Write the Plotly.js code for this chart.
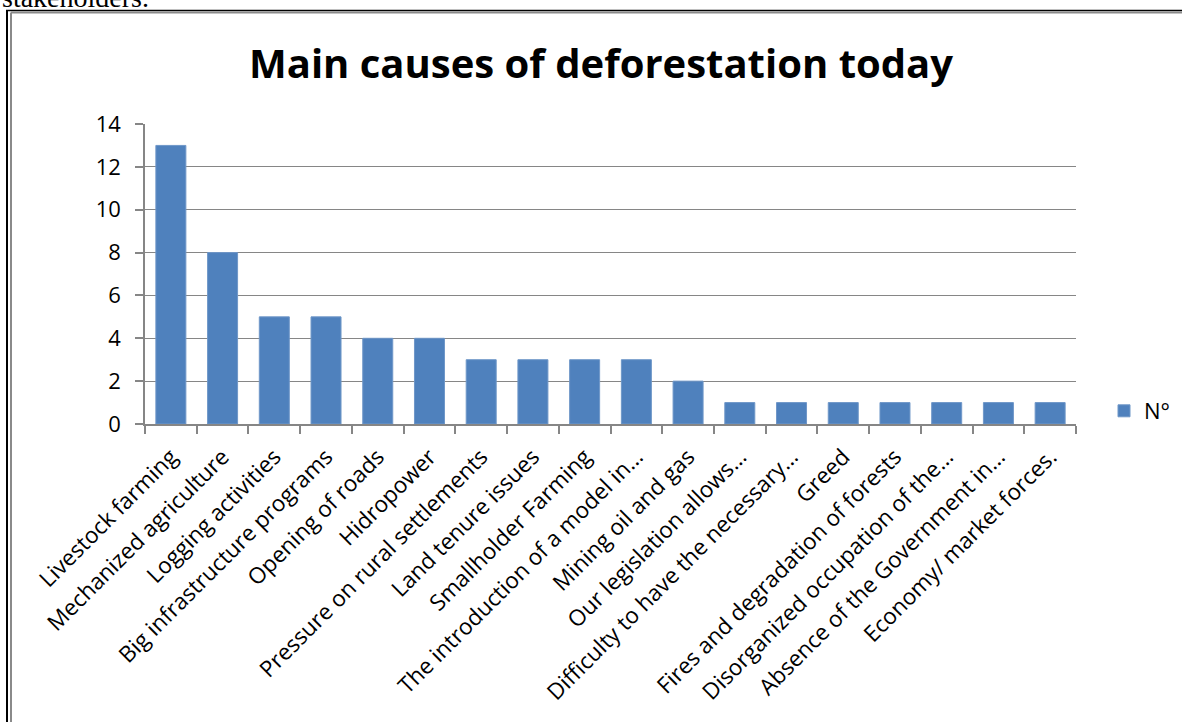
<!DOCTYPE html>
<html>
<head>
<meta charset="utf-8">
<script src="https://cdn.plot.ly/plotly-3.0.1.min.js"></script>
<style>
  html, body { margin: 0; padding: 0; background: #fff; }
  #chart { width: 1182px; height: 722px; }
</style>
</head>
<body>
<div id="chart"></div>
<script>
// Causes of deforestation and how many respondents named each one
const causes = [
  'Livestock farming',
  'Mechanized agriculture',
  'Logging activities',
  'Big infrastructure programs',
  'Opening of roads',
  'Hidropower',
  'Pressure on rural settlements',
  'Land tenure issues',
  'Smallholder Farming',
  'The introduction of a model in…',
  'Mining oil and gas',
  'Our legislation allows…',
  'Difficulty to have the necessary…',
  'Greed',
  'Fires and degradation of forests',
  'Disorganized occupation of the…',
  'Absence of the Government in…',
  'Economy/ market forces.'
];
const counts = [13, 8, 5, 5, 4, 4, 3, 3, 3, 3, 2, 1, 1, 1, 1, 1, 1, 1];
const seriesName = 'N°';
const chartTitle = 'Main causes of deforestation today';
const leadText = 'stakeholders.';

const W = 1182, H = 722;
const px = v => v / W;          // pixel -> paper x
const py = v => 1 - v / H;      // pixel -> paper y

const font = '"Open Sans", "Noto Sans", sans-serif';
const grid = '#868686';

const trace = {
  type: 'bar',
  x: causes,
  y: counts,
  name: seriesName,
  showlegend: true,
  marker: { color: '#4F81BD', line: { color: '#6F97C8', width: 1 } },
  hoverinfo: 'x+y'
};

// double frame around the chart box
const frame = [
  { x0: 7, y0: 10.5, x1: 7, y1: H, color: '#000', w: 2 },
  { x0: 6, y0: 10.5, x1: W, y1: 10.5, color: '#000', w: 1.5 },
  { x0: 11, y0: 12.5, x1: 11, y1: H, color: '#8a8a8a', w: 2 },
  { x0: 11, y0: 12.5, x1: W, y1: 12.5, color: '#8a8a8a', w: 2 }
].map(f => ({
  type: 'line', xref: 'paper', yref: 'paper',
  x0: px(f.x0), x1: px(f.x1), y0: py(f.y0), y1: py(f.y1),
  line: { color: f.color, width: f.w }
}));

const layout = {
  width: W, height: H,
  margin: { l: 0, r: 0, t: 0, b: 0 },
  paper_bgcolor: '#fff', plot_bgcolor: '#fff',
  font: { family: font, color: '#000' },
  title: {
    text: '<b>' + chartTitle + '</b>',
    font: { family: font, size: 40, color: '#000' },
    xref: 'paper', yref: 'paper',
    x: px(601), xanchor: 'center',
    y: py(64), yanchor: 'middle'
  },
  bargap: 0.42,
  xaxis: {
    type: 'category',
    domain: [px(145), px(1076)],
    tickangle: -45,
    tickfont: { family: font, size: 22.5, color: '#000' },
    ticks: 'outside', ticklen: 8, tickwidth: 1.5, tickcolor: grid,
    tickson: 'boundaries',
    ticklabelstandoff: 9,
    showline: true, linecolor: grid, linewidth: 1.5,
    showgrid: false, zeroline: false,
    automargin: false
  },
  yaxis: {
    domain: [py(424), py(124)],
    range: [0, 14], dtick: 2,
    tickfont: { family: font, size: 22, color: '#000' },
    ticks: 'outside', ticklen: 8, tickwidth: 1.5, tickcolor: grid,
    ticklabelstandoff: 10,
    showline: true, linecolor: grid, linewidth: 1.5,
    showgrid: true, gridcolor: grid, gridwidth: 1.2,
    zeroline: false,
    automargin: false
  },
  legend: {
    x: px(1104), y: py(411), xanchor: 'left', yanchor: 'middle',
    font: { family: font, size: 22, color: '#000' },
    bgcolor: 'rgba(0,0,0,0)'
  },
  shapes: frame,
  annotations: [{
    text: leadText,
    xref: 'paper', yref: 'paper',
    x: 0, xanchor: 'left',
    y: py(15), yanchor: 'bottom',
    showarrow: false,
    font: { family: '"Liberation Serif", "DejaVu Serif", serif', size: 28, color: '#000' }
  }]
};

Plotly.newPlot('chart', [trace], layout, { displayModeBar: false, responsive: false });
</script>
</body>
</html>
